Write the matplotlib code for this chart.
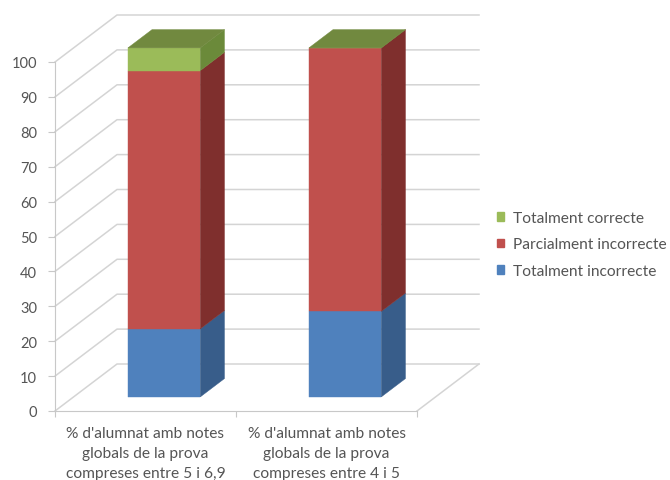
import matplotlib
matplotlib.use('Agg')
import matplotlib.pyplot as plt
from matplotlib.patches import Patch, Polygon

categories = ["% d'alumnat amb notes\nglobals de la prova\ncompreses entre 5 i 6,9",
              "% d'alumnat amb notes\nglobals de la prova\ncompreses entre 4 i 5"]
series_names = ['Totalment incorrecte', 'Parcialment incorrecte', 'Totalment correcte']
incorrecte = [19.5, 24.5]
parcial = [74, 75.5]
correcte = [6.5, 0]
y_ticks = list(range(0, 101, 10))

front_colors = ['#4F81BD', '#C0504D', '#9BBB59']
side_colors = ['#385D8A', '#7F2F2D', '#6B8A3A']
top_color = '#71893F'

# oblique 3d look: how far the back wall is shifted, in data units
DEPTH_X = 62 / 181
DEPTH_Y = 47 / 3.49
BAR_W = 0.4
D0, D1 = 0.3, 0.69
GRID = '#d4d4d4'
TEXT = '#555555'


def proj(x, y, d):
    return (x + d * DEPTH_X, y + d * DEPTH_Y)


plt.rcParams['font.family'] = ['Lato', 'DejaVu Sans']

fig = plt.figure(figsize=(6.7, 4.81), dpi=100)
ax = fig.add_axes([55 / 670, 69 / 481, 362 / 670, 349 / 481])
ax.set_xlim(0, 2)
ax.set_ylim(0, 100)
ax.patch.set_alpha(0)

# back wall and floor
for v in y_ticks:
    x0, y0 = proj(0, v, 0)
    x1, y1 = proj(0, v, 1)
    x2, y2 = proj(2, v, 1)
    ax.plot([x0, x1, x2], [y0, y1, y2], color=GRID, lw=1.1, clip_on=False, zorder=1)
x0, y0 = proj(2, 0, 0)
x1, y1 = proj(2, 0, 1)
ax.plot([x0, x1], [y0, y1], color=GRID, lw=1.1, clip_on=False, zorder=1)

# stacked bars
stack = [incorrecte, parcial, correcte]
for i in range(len(categories)):
    left = i + 0.5 - BAR_W / 2
    right = i + 0.5 + BAR_W / 2
    bottom = 0
    for s, values in enumerate(stack):
        top = bottom + values[i]
        front = [proj(left, bottom, D0), proj(right, bottom, D0),
                 proj(right, top, D0), proj(left, top, D0)]
        side = [proj(right, bottom, D0), proj(right, bottom, D1),
                proj(right, top, D1), proj(right, top, D0)]
        ax.add_patch(Polygon(front, fc=front_colors[s], ec=front_colors[s], lw=0.3, clip_on=False, zorder=3))
        ax.add_patch(Polygon(side, fc=side_colors[s], ec=side_colors[s], lw=0.3, clip_on=False, zorder=3))
        bottom = top
    # only the top of the stack shows its lid
    lid = [proj(left, bottom, D0), proj(right, bottom, D0),
           proj(right, bottom, D1), proj(left, bottom, D1)]
    ax.add_patch(Polygon(lid, fc=top_color, ec=top_color, lw=0.3, clip_on=False, zorder=4))

for name in ['top', 'right']:
    ax.spines[name].set_visible(False)
for name in ['left', 'bottom']:
    ax.spines[name].set_color('#c8c8c8')

ax.set_yticks(y_ticks)
ax.tick_params(axis='y', colors='#c8c8c8', labelcolor=TEXT, labelsize=10.5, length=5, pad=8)
ax.set_xticks([0, 1, 2])
ax.set_xticklabels([])
ax.set_xticks([0.5, 1.5], categories, minor=True)
ax.tick_params(axis='x', which='major', colors='#c8c8c8', length=4)
ax.tick_params(axis='x', which='minor', length=0, labelcolor=TEXT, labelsize=11.2, pad=11)
for label in ax.get_xticklabels(minor=True):
    label.set_linespacing(1.55)

handles = [Patch(color=front_colors[s], label=series_names[s]) for s in [2, 1, 0]]
fig.legend(handles=handles, loc='center left', bbox_to_anchor=(497 / 670, 1 - 245.5 / 481),
           frameon=False, fontsize=11.2, labelcolor=TEXT, handlelength=0.48, handleheight=0.48,
           handletextpad=0.55, labelspacing=0.8, borderaxespad=0, borderpad=0)

fig.savefig('out.png', dpi=100, facecolor='white')
